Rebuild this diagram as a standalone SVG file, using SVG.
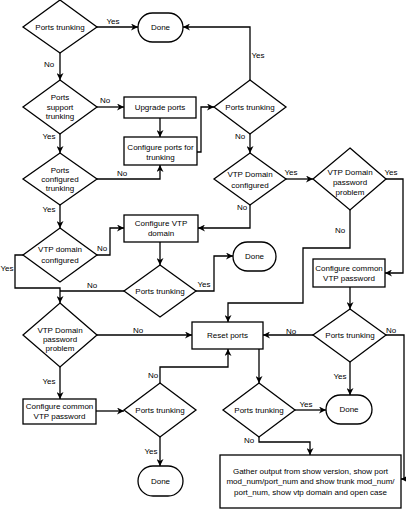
<svg xmlns="http://www.w3.org/2000/svg" width="406" height="511" viewBox="0 0 406 511">
<style>
.s{fill:#fff;stroke:#000;stroke-width:1.3}
.c{fill:none;stroke:#000;stroke-width:1.3}
text{font-family:"Liberation Sans",Arial,sans-serif;font-size:8px;fill:#000;text-anchor:middle;dominant-baseline:central}
</style>
<defs>
<marker id="a" viewBox="0 0 10 10" refX="10" refY="5" markerWidth="7" markerHeight="7" markerUnits="userSpaceOnUse" orient="auto">
<path d="M0,0 L10,5 L0,10 L3,5 z" fill="#000"/>
</marker>
</defs>
<rect width="406" height="511" fill="#fff"/>
<g id="connectors">
<path class="c" d="M96,27 H138" marker-end="url(#a)"/>
<path class="c" d="M250,80 V27 H183" marker-end="url(#a)"/>
<path class="c" d="M60,53 V80" marker-end="url(#a)"/>
<path class="c" d="M97,107 H124" marker-end="url(#a)"/>
<path class="c" d="M160,118 V137" marker-end="url(#a)"/>
<path class="c" d="M197,152 H201 V107 H214" marker-end="url(#a)"/>
<path class="c" d="M60,134 V153" marker-end="url(#a)"/>
<path class="c" d="M97,179 H160 V165" marker-end="url(#a)"/>
<path class="c" d="M60,205 V228" marker-end="url(#a)"/>
<path class="c" d="M97,255 H110 V228 H124" marker-end="url(#a)"/>
<path class="c" d="M250,134 V153" marker-end="url(#a)"/>
<path class="c" d="M286,179 H313" marker-end="url(#a)"/>
<path class="c" d="M250,205 V228 H198" marker-end="url(#a)"/>
<path class="c" d="M386,179 H403 V273 H385" marker-end="url(#a)"/>
<path class="c" d="M350,210 V248 H303 V303 H228 V322" marker-end="url(#a)"/>
<path class="c" d="M160,242 V265" marker-end="url(#a)"/>
<path class="c" d="M196,291 H214 V256 H233" marker-end="url(#a)"/>
<path class="c" d="M23,255 H15 V288 H60 V303" marker-end="url(#a)"/>
<path class="c" d="M124,291 H60"/>
<path class="c" d="M97,335 H192" marker-end="url(#a)"/>
<path class="c" d="M350,287 V309" marker-end="url(#a)"/>
<path class="c" d="M313,335 H263" marker-end="url(#a)"/>
<path class="c" d="M386,335 H404 V479 H401" marker-end="url(#a)"/>
<path class="c" d="M350,362 V395" marker-end="url(#a)"/>
<path class="c" d="M259,349 V383" marker-end="url(#a)"/>
<path class="c" d="M295,410 H326" marker-end="url(#a)"/>
<path class="c" d="M259,437 V442 H310 V455" marker-end="url(#a)"/>
<path class="c" d="M60,367 V399" marker-end="url(#a)"/>
<path class="c" d="M96,411 H124" marker-end="url(#a)"/>
<path class="c" d="M160,383 V367 H228 V349" marker-end="url(#a)"/>
<path class="c" d="M160,437 V466" marker-end="url(#a)"/>
</g>
<g id="labels">
<text x="113" y="21">Yes</text>
<text x="49" y="64">No</text>
<text x="105" y="100">No</text>
<text x="258" y="55">Yes</text>
<text x="49" y="136">Yes</text>
<text x="122" y="173">No</text>
<text x="49" y="209">Yes</text>
<text x="102" y="248">No</text>
<text x="240" y="136">No</text>
<text x="291" y="172">Yes</text>
<text x="391" y="172">Yes</text>
<text x="242" y="207">No</text>
<text x="340" y="230">No</text>
<text x="7" y="268">Yes</text>
<text x="92" y="285">No</text>
<text x="204" y="284">Yes</text>
<text x="138" y="330">No</text>
<text x="291" y="331">No</text>
<text x="391" y="330">No</text>
<text x="340" y="376">Yes</text>
<text x="153" y="375">No</text>
<text x="49" y="381">Yes</text>
<text x="151" y="451">Yes</text>
<text x="306" y="404">Yes</text>
<text x="249" y="440">No</text>
</g>
<g id="d1"><polygon class="s" points="60,0 97,27 60,53 23,27"/><text x="60" y="27">Ports trunking</text></g>
<g id="done1"><rect class="s" x="138" y="13" width="45" height="29" rx="14.5"/><text x="160.5" y="27.5">Done</text></g>
<g id="d2"><polygon class="s" points="60,80 97,107 60,134 23,107"/><text x="60" y="97">Ports</text><text x="60" y="107">support</text><text x="60" y="116">trunking</text></g>
<g id="upgrade"><rect class="s" x="124" y="97" width="72" height="21"/><text x="160" y="107.5">Upgrade ports</text></g>
<g id="cfgports"><rect class="s" x="124" y="137" width="73" height="28"/><text x="160.5" y="147">Configure ports for</text><text x="160.5" y="157">trunking</text></g>
<g id="d3"><polygon class="s" points="250,80 286,107 250,134 214,107"/><text x="250" y="107">Ports trunking</text></g>
<g id="d4"><polygon class="s" points="60,153 97,179 60,205 23,179"/><text x="60" y="170">Ports</text><text x="60" y="179">configured</text><text x="60" y="188">trunking</text></g>
<g id="d6"><polygon class="s" points="250,153 286,179 250,205 214,179"/><text x="250" y="174">VTP Domain</text><text x="250" y="185">configured</text></g>
<g id="d7"><polygon class="s" points="350,148 386,179 350,210 313,179"/><text x="350" y="172">VTP Domain</text><text x="350" y="182">password</text><text x="350" y="192">problem</text></g>
<g id="d5"><polygon class="s" points="60,228 97,255 60,282 23,255"/><text x="60" y="249">VTP domain</text><text x="60" y="260">configured</text></g>
<g id="cfgvtp"><rect class="s" x="124" y="215" width="74" height="27"/><text x="161" y="223">Configure VTP</text><text x="161" y="233">domain</text></g>
<g id="done2"><rect class="s" x="233" y="242" width="43" height="29" rx="14.5"/><text x="254.5" y="256.5">Done</text></g>
<g id="d8"><polygon class="s" points="160,265 196,291 160,317 124,291"/><text x="160" y="291">Ports trunking</text></g>
<g id="cfgcommonR"><rect class="s" x="313" y="259" width="72" height="28"/><text x="349" y="268">Configure common</text><text x="349" y="278">VTP password</text></g>
<g id="d9"><polygon class="s" points="60,303 97,335 60,367 23,335"/><text x="60" y="330">VTP Domain</text><text x="60" y="339">password</text><text x="60" y="348">problem</text></g>
<g id="reset"><rect class="s" x="192" y="322" width="71" height="27"/><text x="227.5" y="335.5">Reset ports</text></g>
<g id="d10"><polygon class="s" points="350,309 386,335 350,362 313,335"/><text x="350" y="335">Ports trunking</text></g>
<g id="cfgcommonL"><rect class="s" x="23" y="399" width="73" height="25"/><text x="59.5" y="406">Configure common</text><text x="59.5" y="416">VTP password</text></g>
<g id="d12"><polygon class="s" points="160,383 196,410 160,437 124,410"/><text x="160" y="410">Ports trunking</text></g>
<g id="d11"><polygon class="s" points="259,383 295,410 259,437 223,410"/><text x="259" y="410">Ports trunking</text></g>
<g id="done3"><rect class="s" x="326" y="395" width="46" height="29" rx="14.5"/><text x="349" y="409.5">Done</text></g>
<g id="done4"><rect class="s" x="138" y="466" width="45" height="30" rx="15"/><text x="160.5" y="481">Done</text></g>
<g id="gather"><rect class="s" x="220" y="455" width="181" height="53"/><text x="310.5" y="471">Gather output from show version, show port</text><text x="310.5" y="481">mod_num/port_num and show trunk mod_num/</text><text x="310.5" y="492">port_num, show vtp domain and open case</text></g>
</svg>
